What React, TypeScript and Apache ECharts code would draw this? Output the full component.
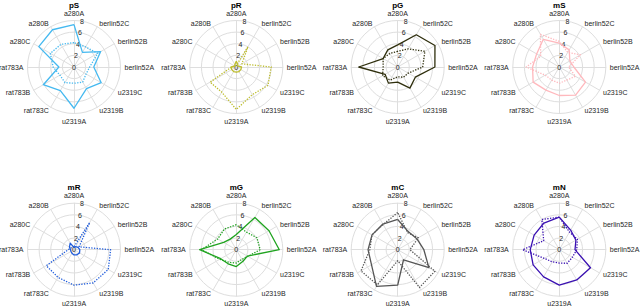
import React, { useEffect, useRef } from 'react';
import * as echarts from 'echarts';

// axes in clockwise order starting at the top
const axes = ['a280A', 'berlin52C', 'berlin52B', 'berlin52A', 'u2319C', 'u2319B', 'u2319A', 'rat783C', 'rat783B', 'rat783A', 'a280C', 'a280B'];
const titles = ['pS', 'pR', 'pG', 'mS', 'mR', 'mG', 'mC', 'mN'];
const colors = ['#45b9f0', '#bdbd2e', '#2e2e0c', '#ffb8bd', '#1f5cdc', '#1fa31f', '#555555', '#3a10b2'];
const rMax = 8;
const rInterval = 2;

const solidPS = [7.3, 2.9, 5.3, 3.4, 5.4, 4.3, 7.1, 4.7, 6.1, 2.6, 7.0, 7.4];
const dottedPS = [4.2, 4.0, 4.7, 2.7, 2.4, 3.0, 2.8, 3.1, 2.8, 3.6, 4.7, 4.5];
const solidPR = [1.0, 0.5, 0.3, 0.9, 0.9, 0.9, 0.9, 0.9, 0.9, 0.9, 0.3, 0.5];
const dottedPR = [0.3, 4.0, 1.1, 6.0, 6.3, 5.5, 7.3, 5.0, 5.2, 0.8, 0.3, 0.3];
const solidPG = [3.8, 6.4, 7.4, 6.4, 3.5, 4.2, 2.6, 3.2, 2.5, 6.7, 2.9, 3.4];
const dottedPG = [2.7, 3.6, 5.4, 4.3, 2.1, 2.0, 1.7, 2.6, 3.0, 2.5, 2.9, 2.7];
const solidMS = [4.1, 3.4, 2.1, 2.5, 5.2, 5.6, 4.9, 4.6, 5.2, 4.6, 4.5, 5.5];
const dottedMS = [4.4, 2.9, 4.2, 1.6, 3.2, 2.6, 2.8, 2.6, 2.8, 5.7, 3.7, 6.5];
const solidMR = [0.4, 0.6, 0.8, 1.0, 1.1, 1.0, 0.9, 0.7, 0.6, 0.6, 0.9, 1.3];
const dottedMR = [0.5, 5.4, 1.0, 6.3, 6.8, 6.6, 6.1, 5.5, 5.5, 1.0, 0.6, 0.6];
const solidMG = [2.6, 6.4, 6.5, 7.4, 2.2, 2.3, 2.9, 2.8, 3.1, 6.3, 2.5, 2.1];
const dottedMG = [4.3, 3.5, 4.1, 4.1, 2.3, 1.9, 2.3, 2.5, 3.3, 6.0, 3.7, 4.1];
const solidMC = [5.2, 3.6, 3.8, 4.5, 6.2, 2.0, 6.1, 7.3, 5.2, 5.1, 5.1, 5.1];
const dottedMC = [6.4, 3.4, 4.1, 2.1, 7.4, 7.5, 1.9, 7.0, 7.3, 4.8, 5.1, 5.0];
const solidMN = [5.6, 3.9, 3.3, 2.7, 6.2, 6.0, 6.1, 5.4, 5.2, 5.0, 5.0, 5.3];
const dottedMN = [5.6, 3.5, 3.6, 3.0, 2.6, 2.7, 2.3, 2.4, 3.0, 6.3, 3.1, 6.0];

const solidSeries = [solidPS, solidPR, solidPG, solidMS, solidMR, solidMG, solidMC, solidMN];
const dottedSeries = [dottedPS, dottedPR, dottedPG, dottedMS, dottedMR, dottedMG, dottedMC, dottedMN];

const FONT = '"Liberation Sans", Arial, Helvetica, sans-serif';
const TEXT = '#262626';
const GRID = '#dedede';

export default function App() {
  const ref = useRef<HTMLDivElement>(null);
  useEffect(() => {
    if (!ref.current) return;
    const chart = echarts.init(ref.current, undefined, { renderer: 'svg' });
    const colX = [74, 236.3, 397.7, 559.3];
    const rowY = [67, 249.7];
    const R = 46.5;
    // ECharts radar places indicators counter-clockwise; reorder for clockwise display
    const order = [0, ...Array.from({ length: axes.length - 1 }, (_, i) => axes.length - 1 - i)];
    const centers = titles.map((_, k) => [colX[k % 4], rowY[Math.floor(k / 4)]]);

    const option: any = {
      animation: false,
      backgroundColor: '#ffffff',
      title: titles.map((t, k) => ({
        text: t,
        left: centers[k][0],
        top: centers[k][1] - 66,
        textAlign: 'center',
        padding: 0,
        textStyle: { fontSize: 8, fontWeight: 'bold', color: '#000', fontFamily: FONT },
      })),
      radar: titles.map((_, k) => ({
        center: centers[k],
        radius: R,
        startAngle: 90,
        shape: 'circle',
        splitNumber: rMax / rInterval,
        indicator: order.map((i) => ({ name: axes[i], min: 0, max: rMax, color: TEXT })),
        axisName: { color: TEXT, fontSize: 7, fontFamily: FONT },
        nameGap: 4,
        splitLine: { lineStyle: { color: GRID, width: 1 } },
        splitArea: { show: false },
        axisLine: { lineStyle: { color: GRID, width: 1 } },
        axisTick: { show: false },
        axisLabel: { show: false },
      })),
      polar: titles.map((_, k) => ({ center: centers[k], radius: R })),
      angleAxis: titles.map((_, k) => ({
        polarIndex: k,
        type: 'value',
        min: 0,
        max: 360,
        startAngle: 80,
        show: false,
      })),
      radiusAxis: titles.map((_, k) => ({
        polarIndex: k,
        type: 'value',
        min: 0,
        max: rMax,
        interval: rInterval,
        axisLine: { show: false },
        axisTick: { show: false },
        splitLine: { show: false },
        axisLabel: {
          show: true,
          margin: 0,
          fontSize: 7,
          color: TEXT,
          fontFamily: FONT,
          align: 'center',
          verticalAlign: 'middle',
        },
      })),
      series: [
        ...titles.map((_, k) => ({
          type: 'radar',
          radarIndex: k,
          symbol: 'none',
          silent: true,
          color: colors[k],
          data: [
            {
              value: order.map((i) => dottedSeries[k][i]),
              lineStyle: { color: colors[k], width: 1.3, type: [1.3, 1.4] },
              itemStyle: { color: colors[k] },
            },
            {
              value: order.map((i) => solidSeries[k][i]),
              lineStyle: { color: colors[k], width: 1.3, type: 'solid' },
              itemStyle: { color: colors[k] },
            },
          ],
        })),
        ...titles.map((_, k) => ({
          type: 'scatter',
          coordinateSystem: 'polar',
          polarIndex: k,
          data: [],
          silent: true,
        })),
      ],
    };
    chart.setOption(option);
    return () => chart.dispose();
  }, []);
  return (
    <div
      ref={ref}
      style={{ position: 'absolute', left: 0, top: 0, width: 640, height: 306 }}
    />
  );
}
